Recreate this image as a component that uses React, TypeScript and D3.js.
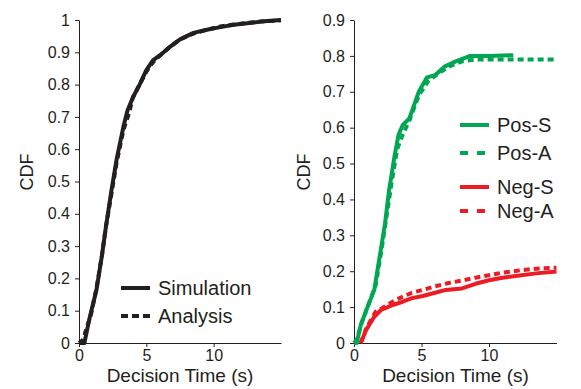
import React, { useEffect, useRef } from 'react'
import * as d3 from 'd3'

// left panel: overall CDF
const simT = [0, 0.4, 0.6, 0.8, 1.3, 1.7, 2.0, 2.4, 2.8, 3.3, 3.6, 4.0, 4.5, 5.0, 5.5, 6.0, 6.7, 7.5, 8.5, 9.5, 10.5, 11.5, 12.5, 13.5, 15]
const simV = [0, 0, 0.04, 0.08, 0.165, 0.27, 0.36, 0.47, 0.57, 0.67, 0.72, 0.76, 0.8, 0.845, 0.876, 0.89, 0.915, 0.94, 0.96, 0.97, 0.978, 0.985, 0.99, 0.995, 1.0]
const anaT = [0, 0.3, 0.6, 0.9, 1.3, 1.7, 2.0, 2.4, 2.8, 3.3, 3.7, 4.0, 4.5, 5.0, 5.5, 6.0, 6.7, 7.5, 8.5, 9.5, 10.5, 11.5, 12.5, 13.5, 15]
const anaV = [0, 0.01, 0.05, 0.09, 0.17, 0.27, 0.36, 0.46, 0.56, 0.66, 0.71, 0.76, 0.8, 0.84, 0.87, 0.89, 0.915, 0.94, 0.958, 0.97, 0.98, 0.986, 0.991, 0.995, 0.999]

// right panel: positive / negative choices
const posST = [0, 0.2, 0.5, 1.0, 1.5, 1.9, 2.3, 2.6, 3.0, 3.3, 3.6, 4.1, 4.8, 5.4, 6.0, 6.7, 7.5, 8.6, 10, 11.8]
const posSV = [0, 0, 0.05, 0.1, 0.148, 0.24, 0.333, 0.426, 0.52, 0.58, 0.607, 0.626, 0.7, 0.74, 0.746, 0.77, 0.784, 0.8, 0.8, 0.802]
const posAT = [0, 0.2, 0.6, 1.1, 1.6, 2.0, 2.4, 2.8, 3.2, 3.6, 4.1, 4.8, 5.5, 6.2, 7.0, 8.0, 9.0, 10, 12, 15]
const posAV = [0, 0.01, 0.06, 0.11, 0.16, 0.25, 0.35, 0.45, 0.54, 0.58, 0.62, 0.69, 0.73, 0.75, 0.77, 0.785, 0.79, 0.79, 0.79, 0.79]
const negST = [0.5, 0.9, 1.5, 2.0, 2.8, 3.6, 4.3, 5.1, 6.0, 6.8, 8.0, 9.0, 10, 11, 12.4, 13.5, 15]
const negSV = [0, 0.036, 0.073, 0.092, 0.105, 0.115, 0.125, 0.131, 0.14, 0.148, 0.152, 0.165, 0.175, 0.182, 0.189, 0.194, 0.199]
const negAT = [0.5, 0.9, 1.6, 2.2, 3.0, 3.6, 4.3, 5.1, 6.0, 7.0, 8.0, 9.0, 10, 11, 12.4, 13.5, 15]
const negAV = [0, 0.04, 0.087, 0.1, 0.118, 0.129, 0.14, 0.148, 0.158, 0.167, 0.174, 0.182, 0.189, 0.196, 0.203, 0.207, 0.21]

const xTicks = [0, 5, 10]
const yTicksLeft = [0, 0.1, 0.2, 0.3, 0.4, 0.5, 0.6, 0.7, 0.8, 0.9, 1]
const yTicksRight = [0, 0.1, 0.2, 0.3, 0.4, 0.5, 0.6, 0.7, 0.8, 0.9]

const GREEN = '#00a651'
const RED = '#ed1c24'
const INK = '#231f20'
const FONT = '"Liberation Sans", Arial, sans-serif'

const zip = (t: number[], v: number[]) => t.map((d, i) => [d, v[i]] as [number, number])

export default function App() {
  const ref = useRef<SVGSVGElement>(null)

  useEffect(() => {
    const svg = d3.select(ref.current)
    svg.selectAll('*').remove()

    const panels = [
      {
        x0: 79, x1: 281, yMax: 1, yTicks: yTicksLeft, cdfX: 33, titleX: 180,
        series: [
          { data: zip(simT, simV), color: INK, dash: null },
          { data: zip(anaT, anaV), color: INK, dash: '6,4' },
        ],
        legend: [
          { label: 'Simulation', color: INK, dash: null, x: 121, y: 288 },
          { label: 'Analysis', color: INK, dash: '7,4', x: 121, y: 316 },
        ],
      },
      {
        x0: 354, x1: 556.5, yMax: 0.9, yTicks: yTicksRight, cdfX: 310, titleX: 455.5,
        series: [
          { data: zip(posST, posSV), color: GREEN, dash: null },
          { data: zip(posAT, posAV), color: GREEN, dash: '6,4' },
          { data: zip(negST, negSV), color: RED, dash: null },
          { data: zip(negAT, negAV), color: RED, dash: '6,4' },
        ],
        legend: [
          { label: 'Pos-S', color: GREEN, dash: null, x: 460, y: 125 },
          { label: 'Pos-A', color: GREEN, dash: '8,9', x: 460, y: 153 },
          { label: 'Neg-S', color: RED, dash: null, x: 460, y: 187 },
          { label: 'Neg-A', color: RED, dash: '8,9', x: 460, y: 211 },
        ],
      },
    ]

    panels.forEach(p => {
      const x = d3.scaleLinear().domain([0, 15]).range([p.x0, p.x1])
      const y = d3.scaleLinear().domain([0, p.yMax]).range([343, 20])

      const gy = svg.append('g').attr('transform', `translate(${p.x0},0)`)
        .call(d3.axisLeft(y).tickValues(p.yTicks).tickFormat(d3.format('~g') as any)
          .tickSize(4).tickSizeOuter(0).tickPadding(5))
      const gx = svg.append('g').attr('transform', 'translate(0,343)')
        .call(d3.axisBottom(x).tickValues(xTicks).tickSize(4).tickSizeOuter(0).tickPadding(3))
      ;[gx, gy].forEach(g => {
        g.selectAll('path,line').attr('stroke', INK).attr('stroke-width', 1)
        g.selectAll('text').attr('fill', INK).style('font-size', '16px').style('font-family', FONT)
      })

      svg.append('text')
        .attr('x', p.titleX).attr('y', 382)
        .attr('text-anchor', 'middle')
        .attr('fill', INK).style('font-size', '19px').style('font-family', FONT)
        .text('Decision Time (s)')
      svg.append('text')
        .attr('transform', `translate(${p.cdfX},172) rotate(-90)`)
        .attr('text-anchor', 'middle')
        .attr('fill', INK).style('font-size', '18px').style('font-family', FONT)
        .text('CDF')

      const line = d3.line<[number, number]>().x(d => x(d[0])).y(d => y(d[1]))
      p.series.forEach(s => {
        svg.append('path')
          .attr('d', line(s.data))
          .attr('fill', 'none')
          .attr('stroke', s.color)
          .attr('stroke-width', 4)
          .attr('stroke-linejoin', 'round')
          .attr('stroke-dasharray', s.dash)
      })

      p.legend.forEach(l => {
        svg.append('line')
          .attr('x1', l.x).attr('x2', l.x + 29)
          .attr('y1', l.y).attr('y2', l.y)
          .attr('stroke', l.color).attr('stroke-width', 4)
          .attr('stroke-dasharray', l.dash)
        svg.append('text')
          .attr('x', l.x + 37).attr('y', l.y + 7)
          .attr('fill', INK).style('font-size', '20px').style('font-family', FONT)
          .text(l.label)
      })
    })
  }, [])

  return (
    <svg ref={ref} width={581} height={389}
      style={{ position: 'absolute', left: 0, top: 0, background: '#fff' }} />
  )
}
